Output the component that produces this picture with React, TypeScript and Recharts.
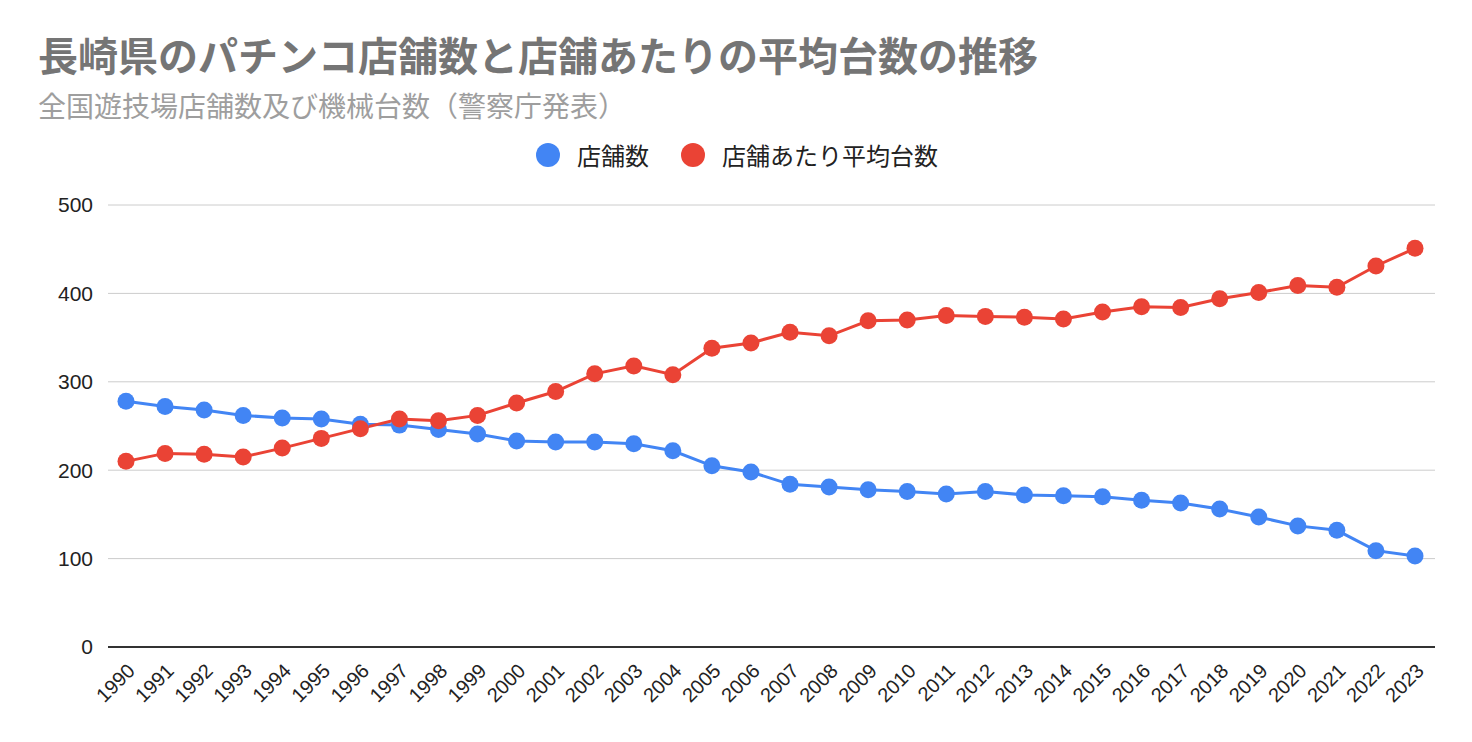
import { CartesianGrid, Line, LineChart, XAxis, YAxis } from "recharts";

const years = [
  "1990", "1991", "1992", "1993", "1994", "1995", "1996", "1997", "1998", "1999",
  "2000", "2001", "2002", "2003", "2004", "2005", "2006", "2007", "2008", "2009",
  "2010", "2011", "2012", "2013", "2014", "2015", "2016", "2017", "2018", "2019",
  "2020", "2021", "2022", "2023",
];

// 店舗数
const storeCounts = [
  278, 272, 268, 262, 259, 258, 252, 251, 246, 241,
  233, 232, 232, 230, 222, 205, 198, 184, 181, 178,
  176, 173, 176, 172, 171, 170, 166, 163, 156, 147,
  137, 132, 109, 103,
];

// 店舗あたり平均台数
const avgMachines = [
  210, 219, 218, 215, 225, 236, 247, 258, 256, 262,
  276, 289, 309, 318, 308, 338, 344, 356, 352, 369,
  370, 375, 374, 373, 371, 379, 385, 384, 394, 401,
  409, 407, 431, 451,
];

const yTicks = [0, 100, 200, 300, 400, 500];

const BLUE = "#4285f4";
const RED = "#ea4335";
const CJK = '"Noto Sans CJK JP", "Liberation Sans", Arial, sans-serif';
const LATIN = '"Liberation Sans", Arial, sans-serif';

const rows = years.map((y, i) => ({
  year: y,
  stores: storeCounts[i],
  avg: avgMachines[i],
}));

function LegendItem({ color, label, gap }: { color: string; label: string; gap: number }) {
  return (
    <div style={{ display: "flex", alignItems: "center", marginRight: gap }}>
      <span
        style={{
          width: 24,
          height: 24,
          borderRadius: 12,
          background: color,
          display: "inline-block",
          marginRight: 17,
        }}
      />
      <span style={{ fontSize: 24, color: "#222", lineHeight: "34px" }}>{label}</span>
    </div>
  );
}

export default function App() {
  return (
    <div
      style={{
        position: "absolute",
        left: 0,
        top: 0,
        width: 1472,
        height: 742,
        background: "#fff",
        fontFamily: CJK,
      }}
    >
      <div
        style={{
          position: "absolute",
          left: 38,
          top: 26,
          fontSize: 40,
          lineHeight: "56px",
          fontWeight: 700,
          color: "#757575",
          whiteSpace: "nowrap",
        }}
      >
        長崎県のパチンコ店舗数と店舗あたりの平均台数の推移
      </div>
      <div
        style={{
          position: "absolute",
          left: 38,
          top: 86,
          fontSize: 28,
          lineHeight: "38px",
          color: "#9e9e9e",
          whiteSpace: "nowrap",
        }}
      >
        全国遊技場店舗数及び機械台数（警察庁発表）
      </div>
      <div
        style={{
          position: "absolute",
          left: 536,
          top: 138,
          display: "flex",
        }}
      >
        <LegendItem color={BLUE} label="店舗数" gap={32} />
        <LegendItem color={RED} label="店舗あたり平均台数" gap={0} />
      </div>
      <LineChart
        width={1472}
        height={742}
        data={rows}
        margin={{ top: 205, right: 37, left: 0, bottom: 0 }}
        style={{ position: "absolute", left: 0, top: 0 }}
      >
        <CartesianGrid stroke="#cccccc" vertical={false} />
        <XAxis
          dataKey="year"
          interval={0}
          padding={{ left: 18, right: 20 }}
          axisLine={{ stroke: "#333", strokeWidth: 2 }}
          tickLine={false}
          tickMargin={9}
          angle={-45}
          textAnchor="end"
          height={95}
          tick={{ fill: "#222", fontSize: 20, fontFamily: LATIN }}
        />
        <YAxis
          width={108}
          domain={[0, 500]}
          ticks={yTicks}
          axisLine={false}
          tickLine={false}
          tickMargin={9}
          tick={{ fill: "#222", fontSize: 21, fontFamily: LATIN }}
        />
        <Line
          dataKey="stores"
          stroke={BLUE}
          strokeWidth={3}
          dot={{ r: 8.5, fill: BLUE, stroke: BLUE, strokeWidth: 0 }}
          activeDot={false}
          isAnimationActive={false}
        />
        <Line
          dataKey="avg"
          stroke={RED}
          strokeWidth={3}
          dot={{ r: 8.5, fill: RED, stroke: RED, strokeWidth: 0 }}
          activeDot={false}
          isAnimationActive={false}
        />
      </LineChart>
    </div>
  );
}
